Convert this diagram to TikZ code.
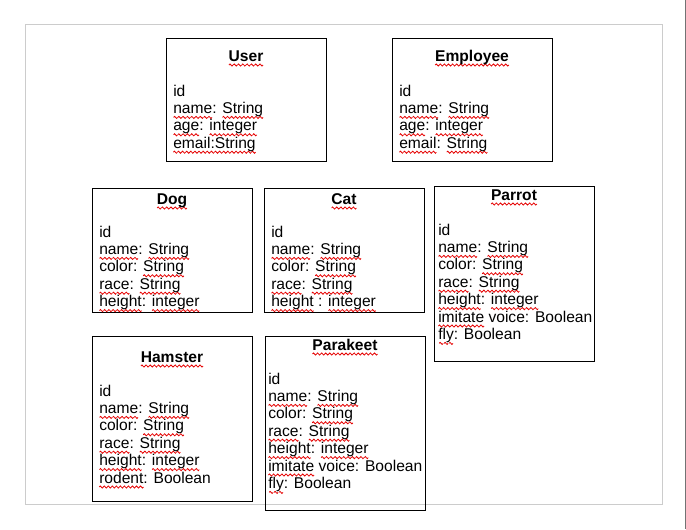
\documentclass[tikz,border=0pt]{standalone}
\usepackage{fontspec}
\setmainfont{Liberation Sans}
\newsavebox\wavebox
\newcommand\sq[1]{\setbox0\hbox{#1}\rlap{\lower3pt\hbox to\wd0{\xleaders\copy\wavebox\hfil}}\box0\relax}
\tikzset{
  umlbox/.style={draw=black, line width=0.9pt, inner sep=0pt},
  ttl/.style={font=\fontsize{11.7pt}{14pt}\selectfont\bfseries, inner sep=0pt, anchor=base},
  fld/.style={font=\fontsize{11.7pt}{14pt}\selectfont, inner sep=0pt, anchor=base west},
  pageframe/.style={draw=black!20, line width=0.75pt},
  pageedge/.style={draw=black!55, line width=0.9pt}
}
\newcommand\umlbox[5]{%
  \node[umlbox, anchor=north west, minimum width={(#4-#2)*0.75pt}, minimum height={(#5-#3)*0.75pt}] (#1) at (#2,#3) {};}
\newcommand\fields[4]{%
  \foreach \ft [count=\i] in {#4} {\node[fld] (#1-\i) at (#2,{#3+(\i-1)*17.4}) {\ft};}}
\begin{document}
\sbox\wavebox{\begin{pgfpicture}%
  \pgfpathrectangle{\pgfpoint{0pt}{-1pt}}{\pgfpoint{3pt}{2pt}}%
  \pgfusepath{use as bounding box}%
  \pgfpathmoveto{\pgfpoint{0pt}{0pt}}%
  \pgfpathsine{\pgfpoint{0.75pt}{0.8pt}}%
  \pgfpathcosine{\pgfpoint{0.75pt}{-0.8pt}}%
  \pgfpathsine{\pgfpoint{0.75pt}{-0.8pt}}%
  \pgfpathcosine{\pgfpoint{0.75pt}{0.8pt}}%
  \pgfsetlinewidth{0.6pt}%
  \pgfsetstrokecolor{red!90!black}%
  \pgfusepath{stroke}%
  \pgfsetbaseline{0pt}%
\end{pgfpicture}}%
\begin{tikzpicture}[x=0.75pt,y=-0.75pt]
\useasboundingbox (0,0) rectangle (686,529);
\node[pageframe, anchor=north west, minimum width={637*0.75pt}, minimum height={480*0.75pt}, inner sep=0pt] (page) at (25,24) {};
\coordinate (et) at (685.5,0);
\coordinate (eb) at (685.5,529);
\draw[pageedge] (et) -- (eb);

% User
\umlbox{user}{166}{38}{326}{161}
\node[ttl] (user-t) at (246,61) {\sq{User}};
\fields{user}{173}{96}{id, \sq{name}: \sq{String}, \sq{age}: \sq{integer}, \sq{email:String}}

% Employee
\umlbox{employee}{392}{38}{552}{161}
\node[ttl] (employee-t) at (472,61) {\sq{Employee}};
\fields{employee}{399}{96}{id, \sq{name}: \sq{String}, \sq{age}: \sq{integer}, \sq{email}: \sq{String}}

% Dog
\umlbox{dog}{92}{188}{252}{312}
\node[ttl] (dog-t) at (172,204) {\sq{Dog}};
\fields{dog}{99}{237}{id, \sq{name}: \sq{String}, color: \sq{String}, \sq{race}: \sq{String}, \sq{height}: \sq{integer}}

% Cat
\umlbox{cat}{264}{188}{424}{312}
\node[ttl] (cat-t) at (344,204) {\sq{Cat}};
\fields{cat}{271}{237}{id, \sq{name}: \sq{String}, color: \sq{String}, \sq{race}: \sq{String}, \sq{height} : \sq{integer}}

% Parrot
\umlbox{parrot}{434}{186}{594}{361}
\node[ttl] (parrot-t) at (514,200) {\sq{Parrot}};
\fields{parrot}{438}{235}{id, \sq{name}: \sq{String}, color: \sq{String}, \sq{race}: \sq{String}, \sq{height}: \sq{integer}, \sq{imitate} voice: Boolean, \sq{fly}: Boolean}

% Hamster
\umlbox{hamster}{92}{336}{252}{501}
\node[ttl] (hamster-t) at (172,362) {\sq{Hamster}};
\fields{hamster}{99}{396}{id, \sq{name}: \sq{String}, color: \sq{String}, \sq{race}: \sq{String}, \sq{height}: \sq{integer}, \sq{rodent}: Boolean}

% Parakeet
\umlbox{parakeet}{265}{336}{425}{510}
\node[ttl] (parakeet-t) at (345,350) {\sq{Parakeet}};
\fields{parakeet}{268}{384}{id, \sq{name}: \sq{String}, color: \sq{String}, \sq{race}: \sq{String}, \sq{height}: \sq{integer}, \sq{imitate} voice: Boolean, \sq{fly}: Boolean}
\end{tikzpicture}
\end{document}
